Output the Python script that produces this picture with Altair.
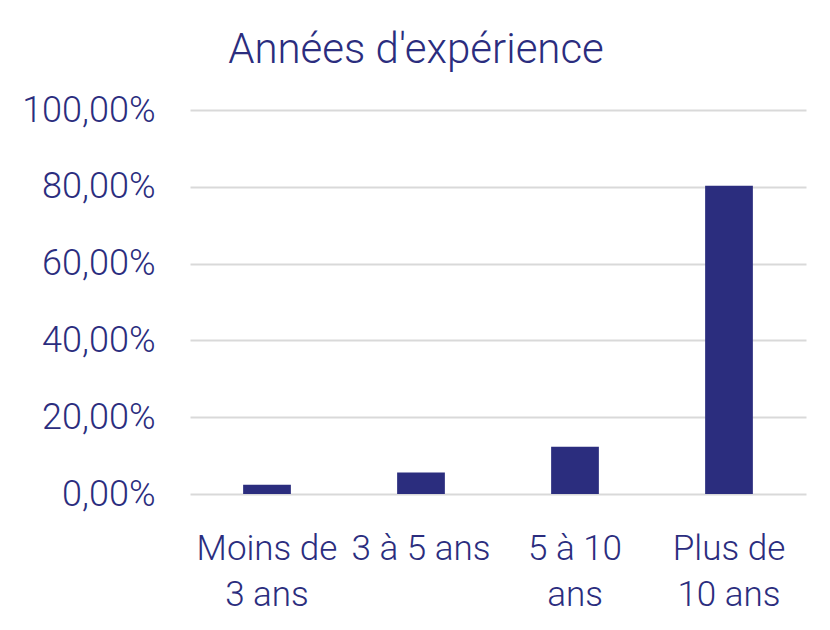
import altair as alt
import pandas as pd

categories = ["Moins de 3 ans", "3 à 5 ans", "5 à 10 ans", "Plus de 10 ans"]
label_lines = [["Moins de", "3 ans"], ["3 à 5 ans"], ["5 à 10", "ans"], ["Plus de", "10 ans"]]
values = [2.4, 5.6, 12.3, 80.3]
y_ticks = [0, 20, 40, 60, 80, 100]
title_text = "Années d'expérience"

NAVY = "#2B2D7E"
FONT = "Roboto"

df = pd.DataFrame({"cat": categories, "val": values})

parts = []
for c, lines in zip(categories, label_lines):
    arr = "[" + ",".join("'" + l + "'" for l in lines) + "]"
    parts.append(f"datum.label == '{c}' ? {arr} : ")
label_expr = "".join(parts) + "datum.label"

bars = alt.Chart(df).mark_bar(color=NAVY).encode(
    x=alt.X("cat:N", sort=categories, title=None,
            scale=alt.Scale(paddingInner=0.69, paddingOuter=0.345),
            axis=alt.Axis(labelAngle=0, labelExpr=label_expr, labelFont=FONT,
                          labelFontSize=35, labelFontWeight=300, labelColor=NAVY,
                          labelPadding=37, labelLineHeight=46, labelBaseline="top",
                          domain=False, ticks=False, grid=False)),
    y=alt.Y("val:Q", title=None,
            scale=alt.Scale(domain=[0, 100], nice=False),
            axis=alt.Axis(values=y_ticks,
                          labelExpr="replace(format(datum.value, '.2f'), '.', ',') + '%'",
                          labelFont=FONT, labelFontSize=36, labelFontWeight=300,
                          labelColor=NAVY, labelPadding=35, domain=False, ticks=False,
                          grid=True, gridColor="#D9D9D9", gridWidth=2)),
)

title = alt.Chart(pd.DataFrame({"t": [title_text]})).mark_text(
    font=FONT, fontSize=42, fontWeight=300, color=NAVY, align="center",
    baseline="alphabetic",
).encode(text="t:N", x=alt.value(226), y=alt.value(-47))

chart = alt.layer(bars, title).properties(
    width=616, height=384,
    autosize=alt.AutoSizeParams(type="none"),
    padding={"left": 182, "top": 102, "right": 14, "bottom": 126},
).configure(background="white", view=alt.ViewConfig(stroke=None, strokeWidth=0))

chart.save("out.html", embed_options={"renderer": "svg", "actions": False})
